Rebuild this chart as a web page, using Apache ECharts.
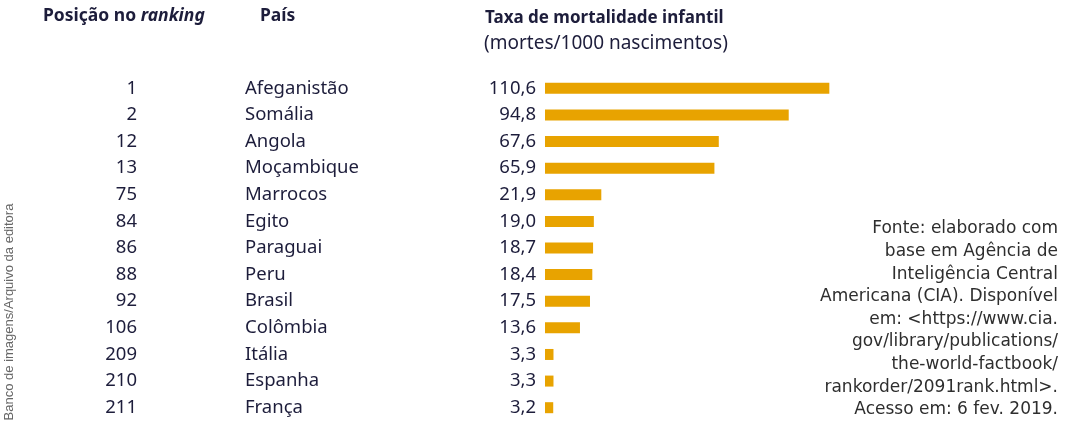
<!DOCTYPE html>
<html>
<head>
<meta charset="utf-8">
<script src="https://cdn.jsdelivr.net/npm/echarts@6/dist/echarts.min.js"></script>
<style>
  html, body { margin: 0; padding: 0; background: #fff; }
  #chart { width: 1069px; height: 426px; }
</style>
</head>
<body>
<div id="chart"></div>
<script>
// data
const ranks = [1, 2, 12, 13, 75, 84, 86, 88, 92, 106, 209, 210, 211]
const countries = ['Afeganistão', 'Somália', 'Angola', 'Moçambique', 'Marrocos', 'Egito',
  'Paraguai', 'Peru', 'Brasil', 'Colômbia', 'Itália', 'Espanha', 'França']
const rates = [110.6, 94.8, 67.6, 65.9, 21.9, 19.0, 18.7, 18.4, 17.5, 13.6, 3.3, 3.3, 3.2]
const sourceLines = [
  'Fonte: elaborado com',
  'base em Agência de',
  'Inteligência Central',
  'Americana (CIA). Disponível',
  'em: <https://www.cia.',
  'gov/library/publications/',
  'the-world-factbook/',
  'rankorder/2091rank.html>.',
  'Acesso em: 6 fev. 2019.'
]

const textColor = '#1d1d3b'
const font = 'Noto Sans'

const chart = echarts.init(document.getElementById('chart'))

const labelAxis = (data, offset, align, margin) => ({
  type: 'category',
  inverse: true,
  position: 'left',
  offset: offset,
  data: data,
  axisLine: { show: false },
  axisTick: { show: false },
  axisLabel: {
    align: align,
    margin: margin,
    color: textColor,
    fontFamily: font,
    fontSize: 18.5
  }
})

const sourceText = sourceLines.map((line, i) => ({
  type: 'text',
  x: 1058,
  y: 229 + i * 22.6,
  style: {
    text: line,
    align: 'right',
    verticalAlign: 'middle',
    fontFamily: 'DejaVu Sans',
    fontSize: 17,
    fill: '#2e2e2e'
  }
}))

chart.setOption({
  animation: false,
  grid: { left: 545, top: 75, width: 308.5, height: 346 },
  xAxis: {
    type: 'value',
    min: 0,
    max: 120,
    show: false
  },
  yAxis: [
    labelAxis(rates.map(v => v.toFixed(1).replace('.', ',')), 0, 'right', 9),
    labelAxis(countries, 300, 'left', 0),
    labelAxis(ranks.map(String), 408, 'right', 0)
  ],
  series: [
    {
      type: 'bar',
      yAxisIndex: 0,
      data: rates,
      barWidth: 11,
      itemStyle: { color: '#e8a300' }
    }
  ],
  graphic: [
    {
      type: 'text',
      left: 43,
      top: 7,
      style: {
        text: '{a|Posição no }{b|ranking}',
        rich: {
          a: { fontFamily: font, fontWeight: 'bold', fontSize: 17.5, fill: textColor, color: textColor },
          b: { fontFamily: font, fontWeight: 'bold', fontStyle: 'italic', fontSize: 17.5, fill: textColor, color: textColor }
        }
      }
    },
    {
      type: 'text',
      left: 260,
      top: 7,
      style: { text: 'País', fontFamily: font, fontWeight: 'bold', fontSize: 17.5, fill: textColor }
    },
    {
      type: 'text',
      left: 485,
      top: 10,
      style: { text: 'Taxa de mortalidade infantil', fontFamily: font, fontWeight: 'bold', fontSize: 17, fill: textColor }
    },
    {
      type: 'text',
      left: 484,
      top: 34,
      style: { text: '(mortes/1000 nascimentos)', fontFamily: font, fontSize: 19, fill: textColor }
    },
    ...sourceText,
    {
      type: 'text',
      x: 9,
      y: 312,
      rotation: Math.PI / 2,
      style: {
        text: 'Banco de imagens/Arquivo da editora',
        align: 'center',
        verticalAlign: 'middle',
        fontFamily: 'Liberation Sans',
        fontSize: 13,
        fill: '#666'
      }
    }
  ]
})
</script>
</body>
</html>
